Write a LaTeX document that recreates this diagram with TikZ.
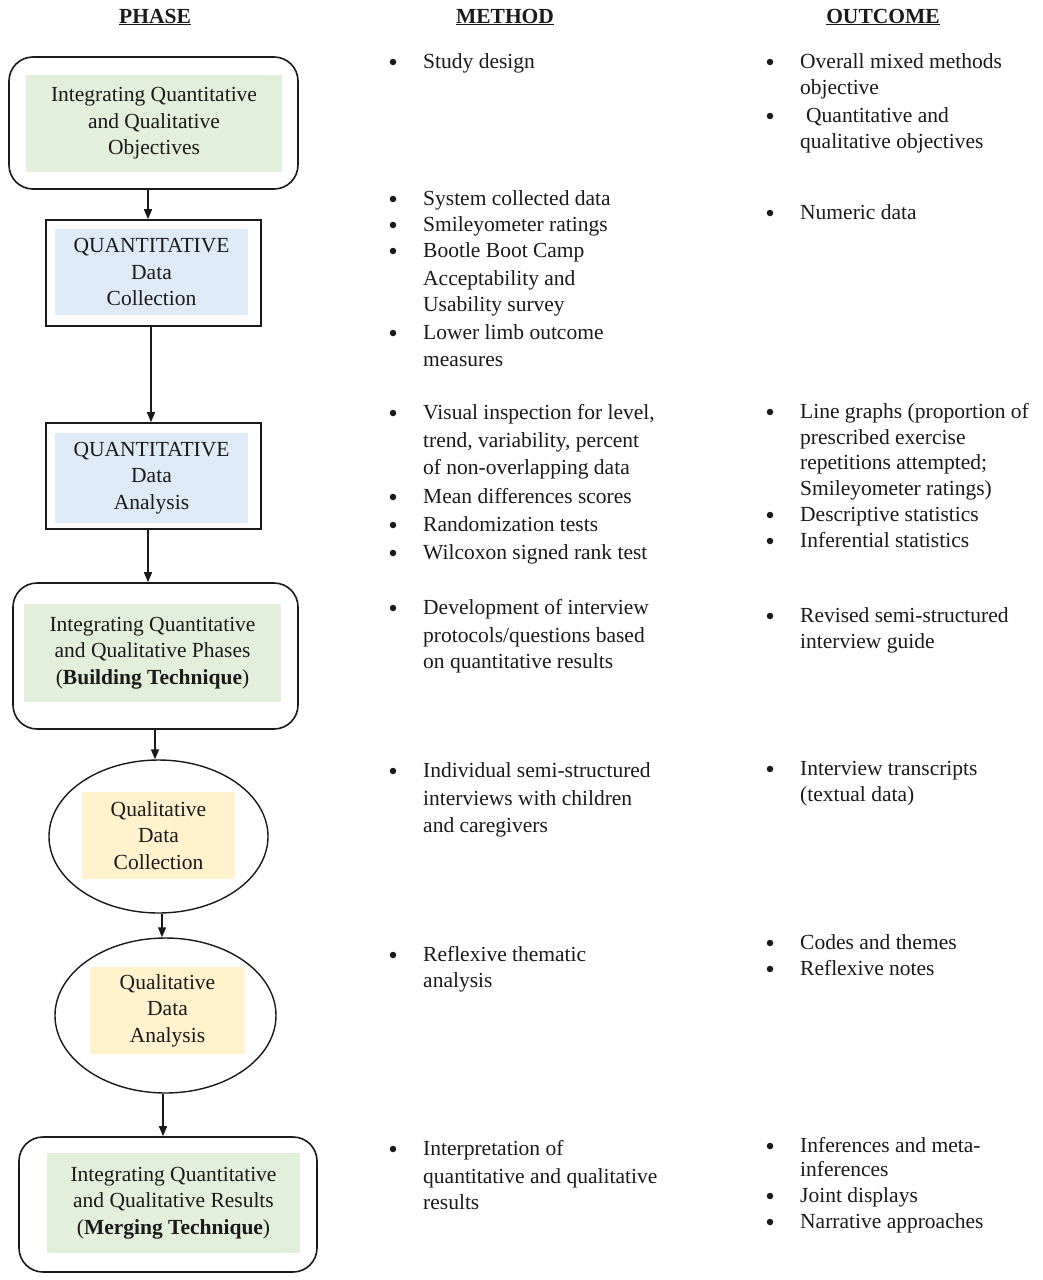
\documentclass[tikz,border=0pt]{standalone}
\usepackage{fontspec}
\setmainfont{Liberation Serif}
\usetikzlibrary{arrows.meta,shapes.geometric}
\definecolor{gfill}{HTML}{E2EFDA}
\definecolor{bfill}{HTML}{DEEBF7}
\definecolor{yfill}{HTML}{FFF2CC}
\definecolor{ink}{HTML}{1A1A1A}
\begin{document}
\begin{tikzpicture}[x=1pt,y=-1pt,
  font=\fontsize{21.5}{26.5}\selectfont, text=ink,
  outerR/.style={draw=ink, line width=1.6pt, rounded corners=24pt, inner sep=0},
  outerS/.style={draw=ink, line width=1.6pt, inner sep=0},
  outerE/.style={draw=ink, line width=1.4pt, ellipse, inner sep=0},
  innerbox/.style={inner sep=0, align=center},
  arr/.style={draw=ink, line width=1.4pt, -{Triangle[length=10pt,width=8pt]}},
  hdr/.style={inner sep=0, font=\fontsize{21.5}{26.5}\selectfont\bfseries},
  txt/.style={inner sep=0, anchor=base west},
  bul/.style={circle, fill=ink, inner sep=0, minimum size=6.5pt}]
\useasboundingbox[fill=white] (0,0) rectangle (1043,1280);

% headers
\node[hdr] (hphase) at (155,17) {\underline{PHASE}};
\node[hdr] (hmethod) at (505,17) {\underline{METHOD}};
\node[hdr] (houtcome) at (883,17) {\underline{OUTCOME}};

% phase column
\node[outerR, minimum width=289pt, minimum height=132pt] (p1) at (153.5,123) {};
\node[innerbox, fill=gfill, minimum width=256pt, minimum height=97pt] (i1) at (154,123.5)
  {Integrating Quantitative\\and Qualitative\\Objectives};

\node[outerS, minimum width=215pt, minimum height=106pt] (p2) at (153.5,273) {};
\node[innerbox, fill=bfill, minimum width=193pt, minimum height=86pt] (i2) at (151.5,272)
  {QUANTITATIVE\\Data\\Collection};

\node[outerS, minimum width=215pt, minimum height=106pt] (p3) at (153.5,476) {};
\node[innerbox, fill=bfill, minimum width=193pt, minimum height=90pt] (i3) at (151.5,478)
  {QUANTITATIVE\\Data\\Analysis};

\node[outerR, minimum width=285pt, minimum height=146pt] (p4) at (155.5,656) {};
\node[innerbox, fill=gfill, minimum width=257pt, minimum height=98pt] (i4) at (152.5,653)
  {Integrating Quantitative\\and Qualitative Phases\\(\textbf{Building Technique})};

\node[outerE, minimum width=219pt, minimum height=153pt] (p5) at (158.5,836.5) {};
\node[innerbox, fill=yfill, minimum width=153pt, minimum height=87pt] (i5) at (158.5,835.5)
  {Qualitative\\Data\\Collection};

\node[outerE, minimum width=221pt, minimum height=155pt] (p6) at (165.5,1015.5) {};
\node[innerbox, fill=yfill, minimum width=155pt, minimum height=87pt] (i6) at (167.5,1010.5)
  {Qualitative\\Data\\Analysis};

\node[outerR, minimum width=298pt, minimum height=135pt] (p7) at (168,1204.5) {};
\node[innerbox, fill=gfill, minimum width=253pt, minimum height=100pt] (i7) at (173.5,1203)
  {Integrating Quantitative\\and Qualitative Results\\(\textbf{Merging Technique})};

% connectors
\draw[arr] ([xshift=-5.5pt]p1.south) -- ([xshift=-5.5pt]p1.south |- p2.north);
\draw[arr] ([xshift=-2.5pt]p2.south) -- ([xshift=-2.5pt]p2.south |- p3.north);
\draw[arr] ([xshift=-5.5pt]p3.south) -- ([xshift=-5.5pt]p3.south |- p4.north);
\draw[arr] ([xshift=-0.5pt]p4.south) -- ([xshift=-0.5pt]p4.south |- p5.north);
\draw[arr] ([xshift=3.5pt]p5.south) -- ([xshift=3.5pt]p5.south |- p6.north);
\draw[arr] ([xshift=-2.5pt]p6.south) -- ([xshift=-2.5pt]p6.south |- p7.north);

% method column
\foreach \yy/\lbl [count=\i] in {
  62/{Study design},
  199/{System collected data},
  225/{Smileyometer ratings},
  251/{Bootle Boot Camp},
  279/{Acceptability and},
  305/{Usability survey},
  333/{Lower limb outcome},
  360/{measures},
  413/{Visual inspection for level,},
  441/{trend, variability, percent},
  468/{of non-overlapping data},
  497/{Mean differences scores},
  525/{Randomization tests},
  553/{Wilcoxon signed rank test},
  608/{Development of interview},
  636/{protocols/questions based},
  662/{on quantitative results},
  771/{Individual semi-structured},
  799/{interviews with children},
  826/{and caregivers},
  955/{Reflexive thematic},
  981/{analysis},
  1149/{Interpretation of},
  1177/{quantitative and qualitative},
  1203/{results}}
  {\node[txt] (m\i) at (423,\yy+6) {\lbl};}

\foreach \yy [count=\i] in {62,199,225,251,333,413,497,525,553,608,771,955,1149}
  {\node[bul] (mb\i) at (393,\yy) {};}

% outcome column
\foreach \yy/\xx/\lbl [count=\i] in {
  62/800/{Overall mixed methods},
  88/800/{objective},
  116/806/{Quantitative and},
  142/800/{qualitative objectives},
  213/800/{Numeric data},
  412/800/{Line graphs (proportion of},
  438/800/{prescribed exercise},
  463/800/{repetitions attempted;},
  489/800/{Smileyometer ratings)},
  515/800/{Descriptive statistics},
  541/800/{Inferential statistics},
  616/800/{Revised semi-structured},
  642/800/{interview guide},
  769/800/{Interview transcripts},
  795/800/{(textual data)},
  943/800/{Codes and themes},
  969/800/{Reflexive notes},
  1146/800/{Inferences and meta-},
  1170/800/{inferences},
  1196/800/{Joint displays},
  1222/800/{Narrative approaches}}
  {\node[txt] (o\i) at (\xx,\yy+6) {\lbl};}

\foreach \yy [count=\i] in {62,116,213,412,515,541,616,769,943,969,1146,1196,1222}
  {\node[bul] (ob\i) at (770,\yy) {};}
\end{tikzpicture}
\end{document}
